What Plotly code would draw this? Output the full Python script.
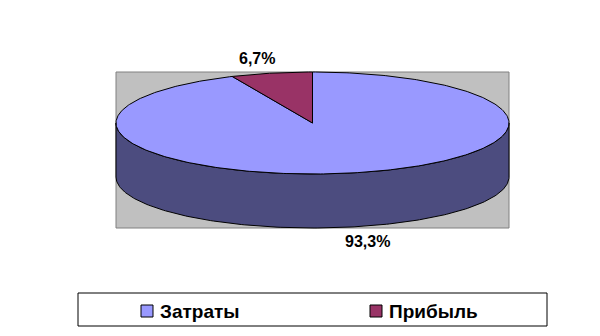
import numpy as np
import plotly.graph_objects as go

# ---- data ----
categories = ["Затраты", "Прибыль"]
values = [93.3, 6.7]
colors = ["#9999FF", "#993366"]

# ---- layout parameters (pixel space) ----
W, H = 600, 336
cx, cy = 312.5, 123.0      # centre of the top face
rx, ry = 196.5, 51.0       # ellipse radii
depth = 54.0               # pie thickness
FONT = "Liberation Sans, Arial, sans-serif"


def darken(hex_color, f=0.5):
    h = hex_color.lstrip("#")
    r, g, b = (int(h[i:i + 2], 16) for i in (0, 2, 4))
    return "#%02X%02X%02X" % (int(r * f), int(g * f), int(b * f))


def pt(phi, dy=0.0):
    return cx + rx * np.sin(phi), cy - ry * np.cos(phi) + dy


fig = go.Figure()

total = float(sum(values))
fr = np.array(values) / total
bounds = np.concatenate([[0.0], np.cumsum(fr)]) * 2 * np.pi

# plot-area background
fig.add_shape(type="rect", x0=cx - rx, x1=cx + rx, y0=cy - ry, y1=cy + ry + depth,
              fillcolor="#C0C0C0", line=dict(color="#808080", width=1), layer="below")

# sides (front half only: pi/2 .. 3pi/2)
for i, cat in enumerate(categories):
    a0, a1 = bounds[i], bounds[i + 1]
    s0, s1 = max(a0, np.pi / 2), min(a1, 3 * np.pi / 2)
    if s1 <= s0:
        continue
    t = np.linspace(s0, s1, 200)
    xt, yt = pt(t)
    xb, yb = pt(t[::-1], depth)
    xs = np.concatenate([xt, xb, xt[:1]])
    ys = np.concatenate([yt, yb, yt[:1]])
    fig.add_trace(go.Scatter(x=xs, y=ys, mode="lines", fill="toself",
                             fillcolor=darken(colors[i]),
                             line=dict(color="black", width=1),
                             hoverinfo="skip", showlegend=False))

# top faces
for i, cat in enumerate(categories):
    a0, a1 = bounds[i], bounds[i + 1]
    t = np.linspace(a0, a1, 400)
    xa, ya = pt(t)
    xs = np.concatenate([[cx], xa, [cx]])
    ys = np.concatenate([[cy], ya, [cy]])
    fig.add_trace(go.Scatter(x=xs, y=ys, mode="lines", fill="toself",
                             fillcolor=colors[i],
                             line=dict(color="black", width=1),
                             name=cat, hoverinfo="skip", showlegend=False))

# data labels
for i, v in enumerate(values):
    pm = (bounds[i] + bounds[i + 1]) / 2
    lx = cx + rx * 1.35 * np.sin(pm)
    ly = cy - ry * 1.3 * np.cos(pm) + (depth if np.cos(pm) < 0 else 0)
    fig.add_annotation(x=lx, y=ly, text=("%.1f" % v).replace(".", ",") + "%",
                       showarrow=False, xanchor="center", yanchor="middle",
                       font=dict(family=FONT, size=16, color="black", weight="bold"))

# legend (manual)
fig.add_shape(type="rect", x0=78, x1=547, y0=293, y1=326,
              fillcolor="white", line=dict(color="black", width=1))
for i, cat in enumerate(categories):
    x0 = 141 + i * 229
    fig.add_shape(type="rect", x0=x0, x1=x0 + 12, y0=305, y1=317,
                  fillcolor=colors[i], line=dict(color="black", width=1))
    fig.add_annotation(x=x0 + 17, y=311, text=cat, showarrow=False,
                       xanchor="left", yanchor="middle",
                       font=dict(family=FONT, size=19, color="black", weight="bold"))

fig.update_layout(
    width=W, height=H, margin=dict(l=0, r=0, t=0, b=0),
    paper_bgcolor="white", plot_bgcolor="white",
    xaxis=dict(range=[0, W], visible=False, fixedrange=True),
    yaxis=dict(range=[H, 0], visible=False, fixedrange=True),
    showlegend=False,
)

fig.write_html("out.html")
